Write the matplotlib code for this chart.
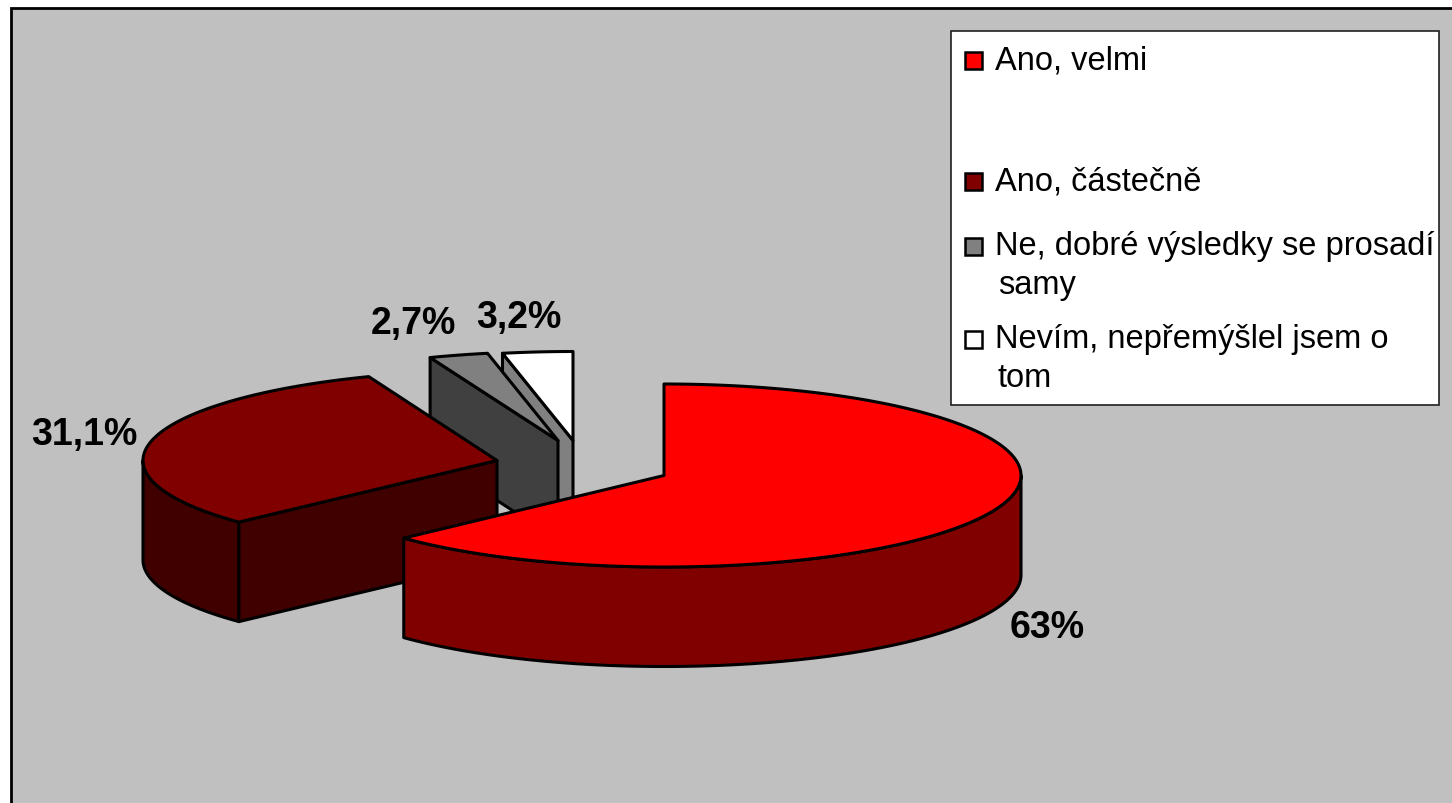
import numpy as np
import matplotlib
matplotlib.use("Agg")
import matplotlib.pyplot as plt
from matplotlib.patches import Polygon, Rectangle

# --- data ---
categories = ["Ano, velmi", "Ano, částečně", "Ne, dobré výsledky se prosadí\nsamy", "Nevím, nepřemýšlel jsem o\ntom"]
values = [63.0, 31.1, 2.7, 3.2]
value_labels = ["63%", "31,1%", "2,7%", "3,2%"]

# --- style / layout ---
top_colors = ["#ff0000", "#800000", "#808080", "#ffffff"]
wall_colors = ["#800000", "#400000", "#404040", "#808080"]
centers = [(664, 476.5), (497, 461.5), (558, 441.5), (573, 441.5)]
radii = [(357, 91.5), (354, 90), (353, 89), (353, 89)]
DEPTH = 99.5
LW = 2.2
label_pos = [(1047, 628), (84, 435), (413, 324), (519, 318)]
legend_marker_y = [61.5, 182.5, 247.5, 340.5]
legend_text_y = [61, 182, 247, 340]
legend_text_x = [995, 995, 995, 995]

fig = plt.figure(figsize=(14.52, 8.04), dpi=100, facecolor="white")
ax = fig.add_axes([0, 0, 1, 1])
ax.set_xlim(0, 1452)
ax.set_ylim(804, 0)
ax.axis("off")
plt.rcParams["font.family"] = ["Liberation Sans", "DejaVu Sans"]

ax.add_patch(Rectangle((10.5, 8.5), 1460, 820, fc="#c0c0c0", ec="black", lw=2, zorder=0))

def arc(c, r, a0, a1, n=120):
    t = np.radians(np.linspace(a0, a1, n))
    return np.c_[c[0] + r[0] * np.sin(t), c[1] - r[1] * np.cos(t)]

def poly(pts, fc, z):
    ax.add_patch(Polygon(pts, closed=True, fc=fc, ec="black", lw=LW, joinstyle="round", zorder=z))

edges = np.r_[0, np.cumsum(values)] / sum(values) * 360
down = np.array([0, DEPTH])

# slice 4 (back right): cut face, then top
c = np.array(centers[3])
p = arc(c, radii[3], edges[3], edges[4])
poly([p[0], c, c + down, p[0] + down], wall_colors[3], 1)
poly(np.vstack([c, p]), top_colors[3], 2)

# slice 3: cut face, then top
c = np.array(centers[2])
p = arc(c, radii[2], edges[2], edges[3])
poly([p[0], c, c + down, p[0] + down], wall_colors[2], 3)
poly(np.vstack([c, p]), top_colors[2], 4)

# slice 2: outer wall, cut face, top
c = np.array(centers[1])
p = arc(c, radii[1], edges[1], edges[2])
w = arc(c, radii[1], edges[1], 270)
poly(np.vstack([w, (w + down)[::-1]]), wall_colors[1], 5)
poly([p[0], c, c + down, p[0] + down], wall_colors[1], 6)
poly(np.vstack([c, p]), top_colors[1], 7)

# slice 1: outer wall, top
c = np.array(centers[0])
p = arc(c, radii[0], edges[0], edges[1], 300)
w = arc(c, radii[0], 90, edges[1], 200)
poly(np.vstack([w, (w + down)[::-1]]), wall_colors[0], 8)
poly(np.vstack([c, p]), top_colors[0], 9)

for (x, y), s in zip(label_pos, value_labels):
    ax.text(x, y, s, ha="center", va="center", fontsize=27, fontweight="bold", color="black", zorder=12)

# legend
ax.add_patch(Rectangle((951, 31.5), 488, 374, fc="white", ec="#202020", lw=1.2, zorder=10))
for cat, col, my, ty, tx in zip(categories, top_colors, legend_marker_y, legend_text_y, legend_text_x):
    ax.add_patch(Rectangle((964.5, my - 8.5), 17, 17, fc=col, ec="black", lw=1.8, zorder=11))
    for i, line in enumerate(cat.split("\n")):
        ax.text(tx + (3 if i else 0), ty + 39 * i, line, ha="left", va="center", fontsize=23.5,
                color="black", zorder=12)

fig.savefig("out.png", dpi=100, facecolor="white")
